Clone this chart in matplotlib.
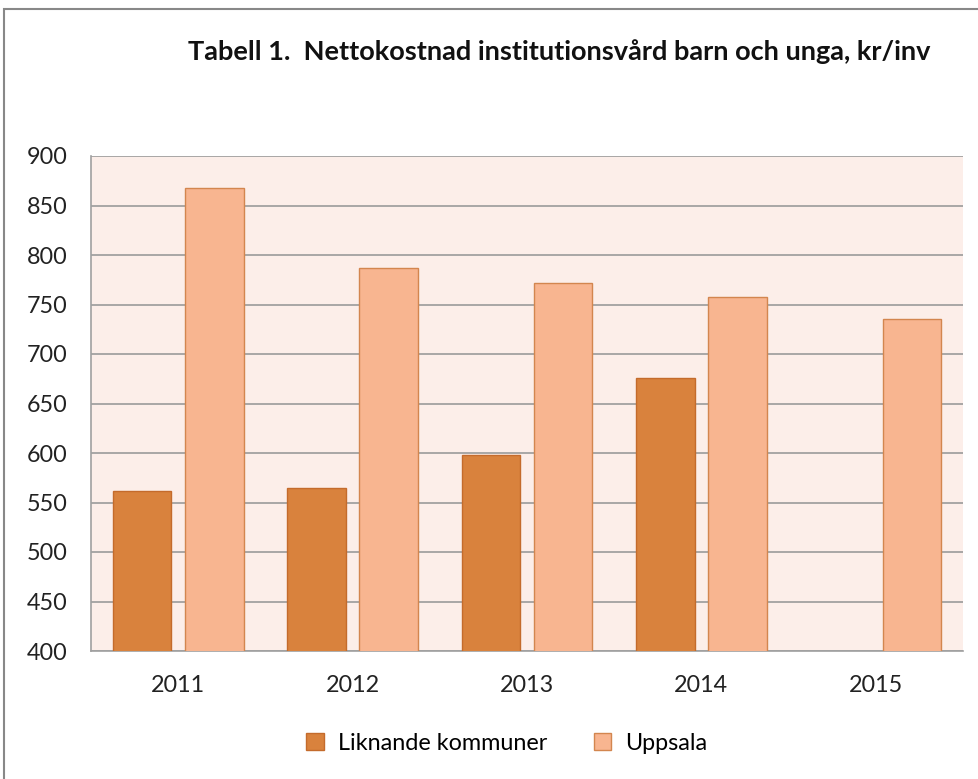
import matplotlib
matplotlib.use("Agg")
import matplotlib.pyplot as plt
import numpy as np
from matplotlib.patches import Rectangle

years = ["2011", "2012", "2013", "2014", "2015"]
liknande = [562, 565, 598, 676, np.nan]
uppsala = [868, 787, 772, 758, 735]
yticks = [400, 450, 500, 550, 600, 650, 700, 750, 800, 850, 900]

plt.rcParams['font.family'] = ['Lato', 'DejaVu Sans']

W, H = 979, 779
fig = plt.figure(figsize=(W/100, H/100), dpi=100)
fig.patch.set_facecolor('white')
# outer frame
fig.patches.append(Rectangle((4/W, -0.01), 1.02, 1 - 9/H + 0.01, transform=fig.transFigure,
                             fill=False, edgecolor='#888888', linewidth=1.5))

ax = fig.add_axes([91/W, 1 - 651/H, (963-91)/W, (651-156)/H])
ax.set_facecolor('#FCEEE9')

x = np.arange(len(years))
bw = 0.335
off = 0.207
ax.bar(x - off, liknande, bw, color='#D9823D', edgecolor='#C46B2C', linewidth=1, label='Liknande kommuner', zorder=3)
ax.bar(x + off, uppsala, bw, color='#F8B590', edgecolor='#D3864F', linewidth=1, label='Uppsala', zorder=3)

ax.set_xlim(-0.5, len(years) - 0.5)
ax.set_ylim(400, 900)
ax.set_yticks(yticks)
ax.set_xticks(x)
ax.set_xticklabels(years)
ax.yaxis.grid(True, color='#9A9A9A', linewidth=1.2, zorder=1)
ax.set_axisbelow(True)
for s in ['top', 'right']:
    ax.spines[s].set_visible(False)
for s in ['left', 'bottom']:
    ax.spines[s].set_color('#A0A0A0')
    ax.spines[s].set_linewidth(1.2)
ax.tick_params(axis='both', length=0, labelsize=16.8, colors='#222222')
ax.tick_params(axis='x', pad=17)
for lab in ax.get_yticklabels():
    lab.set_horizontalalignment('left')
ax.yaxis.set_tick_params(pad=(91 - 27) * 0.72)

fig.text(559/W, 1 - 52/H, 'Tabell 1.  Nettokostnad institutionsvård barn och unga, kr/inv',
         ha='center', va='center', fontsize=19.5, fontweight='bold', color='#111111')

leg = fig.legend(loc='center', bbox_to_anchor=(507/W, 1 - 743/H), ncol=2, frameon=False,
                 fontsize=16.8, handlelength=0.75, handleheight=0.75, columnspacing=2.0, handletextpad=0.6)

fig.savefig('out.png', dpi=100)
